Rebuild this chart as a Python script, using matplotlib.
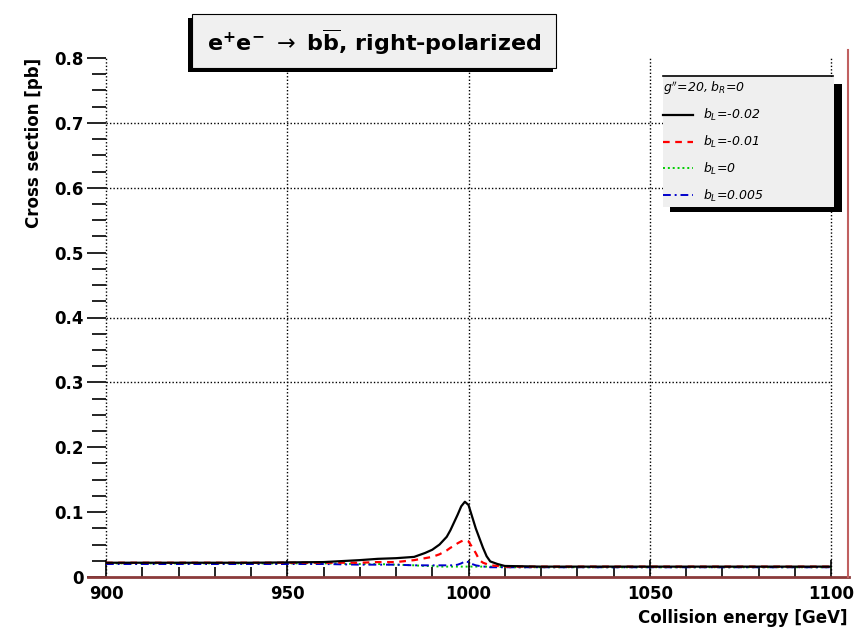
import matplotlib
matplotlib.use("Agg")
import matplotlib.pyplot as plt
from matplotlib.lines import Line2D
from matplotlib.patches import Rectangle
from matplotlib.ticker import MultipleLocator

""" Data read off the picture """
energy = [900, 920, 940, 960, 970, 975, 980, 985, 988, 990, 992, 994, 995,
          996, 997, 998, 999, 1000, 1001, 1002, 1003, 1004, 1005, 1006,
          1008, 1010, 1020, 1040, 1060, 1080, 1100]

xs_bl_m002 = [0.022, 0.022, 0.022, 0.023, 0.026, 0.028, 0.029, 0.031, 0.037,
              0.042, 0.050, 0.062, 0.072, 0.084, 0.096, 0.109, 0.116, 0.111,
              0.093, 0.075, 0.060, 0.045, 0.032, 0.024, 0.020, 0.017, 0.016,
              0.016, 0.016, 0.016, 0.016]
xs_bl_m001 = [0.022, 0.022, 0.022, 0.022, 0.022, 0.023, 0.023, 0.026, 0.029,
              0.031, 0.035, 0.041, 0.045, 0.048, 0.052, 0.055, 0.057, 0.055,
              0.046, 0.037, 0.026, 0.022, 0.020, 0.018, 0.017, 0.016, 0.016,
              0.016, 0.016, 0.016, 0.016]
xs_bl_0 = [0.021, 0.021, 0.021, 0.021, 0.020, 0.020, 0.019, 0.018, 0.017,
           0.017, 0.016, 0.016, 0.016, 0.016, 0.016, 0.016, 0.016, 0.016,
           0.016, 0.016, 0.016, 0.016, 0.016, 0.016, 0.016, 0.015, 0.015,
           0.015, 0.015, 0.015, 0.015]
xs_bl_0005 = [0.020, 0.020, 0.020, 0.020, 0.019, 0.019, 0.019, 0.018, 0.018,
              0.018, 0.018, 0.018, 0.018, 0.018, 0.019, 0.021, 0.024, 0.023,
              0.020, 0.018, 0.017, 0.016, 0.016, 0.015, 0.015, 0.015, 0.015,
              0.015, 0.015, 0.015, 0.015]

labels = [r"$b_L$=-0.02", r"$b_L$=-0.01", r"$b_L$=0", r"$b_L$=0.005"]
header = r"$g''$=20, $b_R$=0"
xticks = [900, 950, 1000, 1050, 1100]
yticks = [0.1, 0.2, 0.3, 0.4, 0.5, 0.6, 0.7, 0.8]
ygrid = [0.3, 0.4, 0.6, 0.7]

W, H = 861, 633


def fx(px):
    return px / W


def fy(py):
    return 1 - py / H


""" Figure """
fig = plt.figure(figsize=(W / 100, H / 100), dpi=100)
fig.patch.set_facecolor("white")
ax = fig.add_axes([fx(106), fy(577), fx(831) - fx(106), fy(58) - fy(577)])
ax.set_facecolor("white")

for s in ["top", "right", "left", "bottom"]:
    ax.spines[s].set_visible(False)

ax.set_xlim(900, 1100)
ax.set_ylim(0, 0.8)

# grid: every vertical major, only some horizontals (as in the picture)
dots = (0, (1, 1.5))
for x in xticks:
    ax.axvline(x, color="black", lw=1.0, ls=dots, zorder=1, clip_on=False)
for y in ygrid:
    ax.axhline(y, color="black", lw=1.0, ls=dots, zorder=1)

ax.plot(energy, xs_bl_m002, color="black", lw=1.6, ls="-", zorder=5)
ax.plot(energy, xs_bl_m001, color="#ff0000", lw=1.6, ls=(0, (3, 2.5)), zorder=4)
ax.plot(energy, xs_bl_0, color="#00cc00", lw=1.4, ls=(0, (1, 1.5)), zorder=3)
ax.plot(energy, xs_bl_0005, color="#0000cc", lw=1.4, ls=(0, (4, 2, 1, 2)), zorder=3)

ax.set_xticks(xticks)
ax.set_xticklabels([str(v) for v in xticks])
ax.xaxis.set_minor_locator(MultipleLocator(10))
ax.tick_params(axis="x", which="major", direction="in", length=12, width=1.2,
               pad=6, labelsize=12)
ax.tick_params(axis="x", which="minor", direction="in", length=7, width=1.2)

ax.set_yticks([0] + yticks)
ax.set_yticklabels(["0"] + [f"{v:.1f}" for v in yticks])
ax.yaxis.set_minor_locator(MultipleLocator(0.025))
ax.tick_params(axis="y", which="major", direction="out", length=14, width=1.2,
               pad=2, labelsize=12)
ax.tick_params(axis="y", which="minor", direction="out", length=10, width=1.2)
for lab in ax.get_xticklabels() + ax.get_yticklabels():
    lab.set_fontweight("bold")

ax.set_xlabel("Collision energy [GeV]", fontsize=12, fontweight="bold",
              ha="right", x=1.0 + (848 - 831) / (831 - 106), labelpad=4)
ax.set_ylabel("Cross section [pb]", fontsize=12, fontweight="bold",
              ha="right", y=1.0, labelpad=8)

# pad frame lines (dark red)
fig.add_artist(Line2D([fx(88), fx(849)], [fy(577), fy(577)], color="#8b3a3a", lw=2))
fig.add_artist(Line2D([fx(848), fx(848)], [fy(50), fy(577)], color="#c06060", lw=1.5))

# title box with shadow
fig.add_artist(Rectangle((fx(188), fy(72)), fx(556) - fx(191), fy(14) - fy(68),
                         transform=fig.transFigure, facecolor="black", edgecolor="none"))
fig.add_artist(Rectangle((fx(192), fy(68)), fx(556) - fx(192), fy(14) - fy(68),
                         transform=fig.transFigure, facecolor="#f0f0f0",
                         edgecolor="black", lw=0.8))
fig.text(fx(374), fy(42),
         r"$\mathbf{e^{+}e^{-}}\ \rightarrow\ \mathbf{b\overline{b}}$, right-polarized",
         fontsize=16, fontweight="bold", ha="center", va="center")

# legend box with shadow
fig.add_artist(Rectangle((fx(670), fy(212)), fx(842) - fx(670), fy(84) - fy(212),
                         transform=fig.transFigure, facecolor="black", edgecolor="none"))
fig.add_artist(Rectangle((fx(663), fy(207)), fx(834) - fx(663), fy(77) - fy(207),
                         transform=fig.transFigure, facecolor="#efefef", edgecolor="none"))
fig.add_artist(Line2D([fx(663), fx(833)], [fy(76), fy(76)], color="black", lw=1.2))

handles = [
    Line2D([], [], color="black", lw=1.6, ls="-"),
    Line2D([], [], color="#ff0000", lw=1.6, ls=(0, (3, 2.5))),
    Line2D([], [], color="#00cc00", lw=1.4, ls=(0, (1, 1.5))),
    Line2D([], [], color="#0000cc", lw=1.4, ls=(0, (4, 2, 1, 2))),
]
leg = fig.legend(handles, labels, title=header, loc="upper left",
                 bbox_to_anchor=(fx(662), fy(78)), frameon=False,
                 fontsize=9, title_fontsize=9, handlelength=2.4,
                 labelspacing=0.85, handletextpad=0.8, borderaxespad=0,
                 borderpad=0.1, alignment="left")
for t in leg.get_texts() + [leg.get_title()]:
    t.set_fontstyle("italic")

fig.savefig("out.png", dpi=100)
